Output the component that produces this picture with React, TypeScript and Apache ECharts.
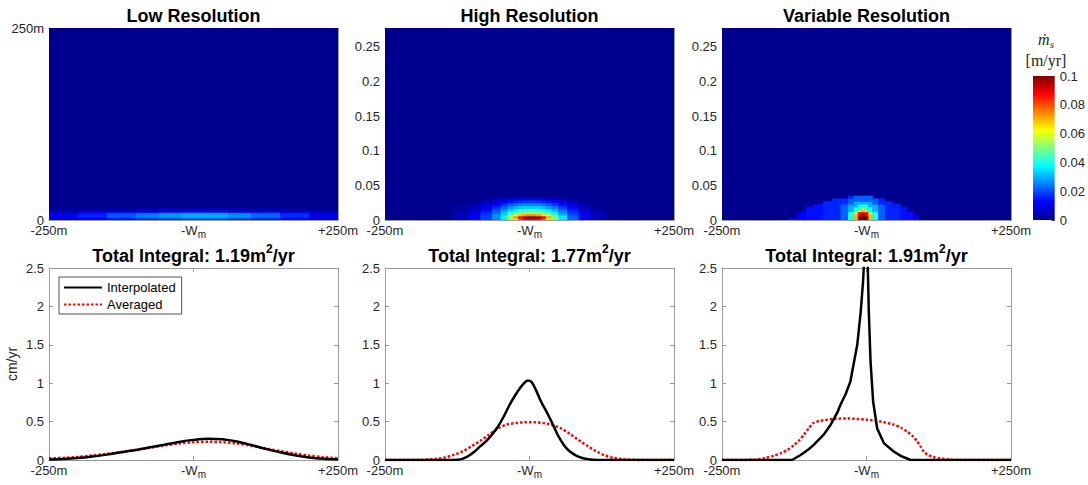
import React, { useEffect, useRef } from 'react';
import * as echarts from 'echarts';

// ---------- labels ----------
const panelTitles = ['Low Resolution', 'High Resolution', 'Variable Resolution'];
const integralValues = ['1.19', '1.77', '1.91'];
const xTickValues = [-250, 0, 250];
const xTickLabels = ['-250m', '-W', '+250m'];
const legendNames = ['Interpolated', 'Averaged'];

// ---------- colour scale (jet) ----------
const JET = ['#00008f', '#0000ff', '#0080ff', '#00ffff', '#80ff80', '#ffff00', '#ff8000', '#ff0000', '#800000'];
const colorMin = 0;
const colorMax = 0.1;
const colorTicks = [0, 0.02, 0.04, 0.06, 0.08, 0.1];

// ---------- top maps ----------
const backgroundValue = 0;
const lowMapYMax = 250;
const fineMapYMax = 0.277;

const lowXEdges = [-250, -200, -150, -100, -60, -20, 20, 60, 100, 150, 200, 250];
const lowYEdges = [0, 2, 4, 7, 10, 12, 15];
const lowValues = [
  [0.007, 0.010, 0.013, 0.015, 0.017, 0.018, 0.018, 0.016, 0.014, 0.010, 0.007],
  [0.009, 0.013, 0.017, 0.020, 0.022, 0.024, 0.024, 0.022, 0.018, 0.014, 0.009],
  [0.011, 0.016, 0.021, 0.025, 0.028, 0.030, 0.030, 0.027, 0.023, 0.017, 0.011],
  [0.010, 0.015, 0.020, 0.024, 0.027, 0.028, 0.028, 0.026, 0.022, 0.016, 0.010],
  [0.005, 0.008, 0.010, 0.012, 0.014, 0.015, 0.015, 0.013, 0.011, 0.008, 0.005],
  [0.002, 0.003, 0.004, 0.005, 0.006, 0.006, 0.006, 0.005, 0.004, 0.003, 0.002],
];

const highXEdges = [-130, -105, -85, -65, -50, -38, -28, -20, -12, -4, 4, 12, 20, 28, 38, 50, 65, 85, 105, 130];
const highYEdges = [0, 0.003, 0.006, 0.009, 0.013, 0.017, 0.021, 0.025, 0.029, 0.033];
const highValues = [
  [0.006, 0.012, 0.018, 0.025, 0.035, 0.05, 0.065, 0.08, 0.088, 0.09, 0.09, 0.088, 0.08, 0.065, 0.05, 0.035, 0.022, 0.012, 0.006],
  [0.006, 0.012, 0.019, 0.027, 0.038, 0.055, 0.075, 0.09, 0.098, 0.1, 0.1, 0.098, 0.09, 0.072, 0.052, 0.036, 0.022, 0.012, 0.006],
  [0.005, 0.011, 0.018, 0.026, 0.035, 0.048, 0.06, 0.068, 0.072, 0.074, 0.074, 0.072, 0.066, 0.056, 0.044, 0.032, 0.02, 0.011, 0.005],
  [0.004, 0.009, 0.016, 0.023, 0.031, 0.039, 0.045, 0.05, 0.052, 0.053, 0.053, 0.052, 0.049, 0.043, 0.036, 0.027, 0.018, 0.009, 0.004],
  [0.003, 0.007, 0.013, 0.02, 0.027, 0.033, 0.037, 0.04, 0.041, 0.042, 0.042, 0.041, 0.039, 0.035, 0.03, 0.023, 0.015, 0.007, 0.003],
  [0.002, 0.005, 0.01, 0.016, 0.022, 0.027, 0.03, 0.032, 0.033, 0.033, 0.033, 0.033, 0.031, 0.028, 0.024, 0.018, 0.011, 0.005, 0.002],
  [0.001, 0.003, 0.007, 0.012, 0.017, 0.021, 0.023, 0.025, 0.026, 0.026, 0.026, 0.025, 0.024, 0.021, 0.018, 0.013, 0.008, 0.003, 0.001],
  [0, 0.001, 0.004, 0.008, 0.011, 0.014, 0.016, 0.017, 0.017, 0.018, 0.018, 0.017, 0.016, 0.014, 0.012, 0.008, 0.005, 0.001, 0],
  [0, 0, 0.001, 0.003, 0.005, 0.006, 0.007, 0.008, 0.008, 0.008, 0.008, 0.008, 0.007, 0.006, 0.005, 0.003, 0.001, 0, 0],
];

const varXEdges = [-135, -120, -105, -90, -75, -60, -45, -32, -22, -15, -9, -3, 3, 10, 20, 32, 45, 58, 70, 80, 90];
const varYEdges = [0, 0.003, 0.006, 0.009, 0.012, 0.015, 0.019, 0.023, 0.027, 0.031, 0.035];
const varValues = [
  [0.012, 0.012, 0.014, 0.014, 0.016, 0.016, 0.022, 0.04, 0.07, 0.1, 0.1, 0.1, 0.07, 0.04, 0.022, 0.016, 0.016, 0.014, 0.014, 0.012],
  [0, 0.012, 0.014, 0.014, 0.016, 0.016, 0.022, 0.04, 0.07, 0.1, 0.1, 0.1, 0.07, 0.04, 0.022, 0.016, 0.016, 0.014, 0.014, 0.012],
  [0, 0.012, 0.014, 0.014, 0.016, 0.016, 0.022, 0.04, 0.07, 0.088, 0.1, 0.088, 0.07, 0.04, 0.022, 0.016, 0.016, 0.014, 0.014, 0],
  [0, 0.012, 0.014, 0.014, 0.016, 0.016, 0.022, 0.04, 0.055, 0.088, 0.088, 0.088, 0.055, 0.04, 0.022, 0.016, 0.016, 0.014, 0.014, 0],
  [0, 0, 0.014, 0.014, 0.016, 0.016, 0.022, 0.03, 0.04, 0.055, 0.07, 0.055, 0.04, 0.03, 0.022, 0.016, 0.016, 0.014, 0, 0],
  [0, 0, 0.014, 0.014, 0.016, 0.016, 0.022, 0.03, 0.04, 0.04, 0.055, 0.04, 0.04, 0.03, 0.022, 0.016, 0.016, 0.014, 0, 0],
  [0, 0, 0, 0.014, 0.016, 0.016, 0.022, 0.03, 0.03, 0.04, 0.04, 0.04, 0.03, 0.03, 0.022, 0.016, 0.016, 0, 0, 0],
  [0, 0, 0, 0, 0.016, 0.016, 0.016, 0.022, 0.03, 0.03, 0.03, 0.03, 0.03, 0.022, 0.016, 0.016, 0, 0, 0, 0],
  [0, 0, 0, 0, 0, 0.016, 0.016, 0.022, 0.022, 0.022, 0.022, 0.022, 0.022, 0.022, 0.016, 0, 0, 0, 0, 0],
  [0, 0, 0, 0, 0, 0, 0, 0.016, 0.022, 0.022, 0.022, 0.022, 0.022, 0, 0, 0, 0, 0, 0, 0],
];

// ---------- bottom profiles (cm/yr) ----------
const lowX = [-250, -225, -200, -175, -150, -125, -100, -75, -50, -25, 0, 25, 50, 75, 100, 125, 150, 175, 200, 225, 250];
const lowInterp = [0.005, 0.012, 0.025, 0.045, 0.07, 0.10, 0.13, 0.165, 0.20, 0.235, 0.262, 0.278, 0.27, 0.24, 0.195, 0.145, 0.10, 0.062, 0.033, 0.015, 0.005];
const lowAvg = [0.02, 0.028, 0.04, 0.058, 0.08, 0.105, 0.13, 0.16, 0.19, 0.215, 0.232, 0.237, 0.232, 0.215, 0.185, 0.15, 0.115, 0.085, 0.058, 0.037, 0.022];

const highInterpX = [-250, -140, -125, -115, -105, -95, -85, -75, -65, -55, -45, -35, -25, -15, -8, -3, 3, 10, 20, 30, 40, 50, 60, 70, 80, 90, 100, 110, 125, 250];
const highInterpY = [0, 0, 0.003, 0.018, 0.055, 0.11, 0.18, 0.245, 0.33, 0.43, 0.56, 0.71, 0.84, 0.95, 1.01, 1.035, 1.02, 0.93, 0.76, 0.62, 0.47, 0.31, 0.19, 0.11, 0.06, 0.03, 0.013, 0.004, 0, 0];
const highAvgX = [-250, -190, -175, -160, -145, -130, -115, -100, -85, -70, -55, -40, -25, -10, 0, 10, 25, 40, 55, 70, 85, 100, 115, 130, 145, 160, 175, 190, 250];
const highAvgY = [0, 0.001, 0.006, 0.016, 0.035, 0.07, 0.115, 0.18, 0.25, 0.33, 0.41, 0.46, 0.48, 0.49, 0.49, 0.49, 0.48, 0.455, 0.41, 0.34, 0.26, 0.185, 0.115, 0.06, 0.028, 0.012, 0.004, 0.001, 0];

const varInterpX = [-250, -129, -114, -100, -91, -74, -62, -51, -45, -36, -28, -16, -10, -6, -3, -1, 1, 2.3, 4, 7, 11.5, 18.5, 30, 47, 60, 70, 76, 250];
const varInterpY = [0, 0, 0.065, 0.14, 0.2, 0.33, 0.46, 0.61, 0.72, 0.86, 1.02, 1.5, 1.93, 2.32, 2.75, 3.2, 3.0, 2.5, 1.93, 1.28, 0.76, 0.41, 0.22, 0.11, 0.05, 0.02, 0, 0];
const varAvgX = [-250, -195, -175, -160, -148, -137, -126, -116, -108, -100, -92, -80, -56, -33, 0, 25, 47, 60, 70, 80, 88, 94, 99, 105, 115, 128, 145, 160, 250];
const varAvgY = [0, 0.003, 0.025, 0.055, 0.09, 0.13, 0.19, 0.26, 0.33, 0.41, 0.48, 0.51, 0.535, 0.54, 0.525, 0.5, 0.46, 0.42, 0.37, 0.31, 0.24, 0.17, 0.11, 0.07, 0.04, 0.02, 0.005, 0, 0];

// ---------- layout ----------
const FONT = "'Liberation Sans', Arial, Helvetica, sans-serif";
const SERIF = "'Liberation Serif', 'DejaVu Serif', serif";
const TEXT = '#262626';
const BOX = '#9a9a9a';
const COL_LEFT = [49, 385, 722];
const COL_WIDTH = 289;
const TOP_Y = 28;
const BOTTOM_Y = 268;
const PLOT_H = 192;
const CB_AXIS = 12;

function zip(xs: number[], ys: number[]) {
  return xs.map((x, i) => [x, ys[i]]);
}

function cells(xEdges: number[], yEdges: number[], values: number[][], yMax: number) {
  const out: number[][] = [[-250, 250, 0, yMax, backgroundValue]];
  values.forEach((row, i) =>
    row.forEach((v, j) => {
      if (v > 0) out.push([xEdges[j], xEdges[j + 1], yEdges[i], yEdges[i + 1], v]);
    })
  );
  return out;
}

const renderCell = (params: any, api: any) => {
  const a = api.coord([api.value(0), api.value(3)]);
  const b = api.coord([api.value(1), api.value(2)]);
  return {
    type: 'rect',
    shape: { x: a[0], y: a[1], width: b[0] - a[0] + 0.5, height: b[1] - a[1] + 0.5 },
    style: { fill: api.visual('color') },
  };
};

const trim = (v: number) => String(+v.toFixed(3));

function xLabel(v: number) {
  const i = xTickValues.indexOf(v);
  if (i < 0) return '';
  if (v === 0) return '{a|' + xTickLabels[i] + '}{s|m}';
  return xTickLabels[i];
}

function buildOption() {
  const grids: any[] = [];
  const xAxes: any[] = [];
  const yAxes: any[] = [];
  for (let g = 0; g < 6; g++) {
    const top = g < 3 ? TOP_Y : BOTTOM_Y;
    grids.push({ left: COL_LEFT[g % 3], top, width: COL_WIDTH, height: PLOT_H, containLabel: false });
    const line = { show: true, onZero: false, lineStyle: { color: BOX, width: 1 } };
    const tick = { show: g >= 3, inside: true, length: 4, lineStyle: { color: BOX } };
    xAxes.push({
      type: 'value', gridIndex: g, position: 'bottom', min: -250, max: 250, interval: 250,
      axisLine: line, axisTick: tick, splitLine: { show: false },
      axisLabel: {
        fontSize: 13, color: TEXT, fontFamily: FONT, margin: 4, formatter: xLabel,
        rich: {
          a: { fontSize: 13, color: TEXT, fontFamily: FONT, lineHeight: 15, verticalAlign: 'top' },
          s: { fontSize: 10, color: TEXT, fontFamily: FONT, lineHeight: 10, verticalAlign: 'bottom' },
        },
      },
    });
    xAxes.push({
      type: 'value', gridIndex: g, position: 'top', min: -250, max: 250, interval: 250,
      axisLine: line, axisTick: tick, splitLine: { show: false }, axisLabel: { show: false },
    });
    let yMin = 0, yMax = 2.5, yInt = 0.5;
    let fmt: any = (v: number) => trim(v);
    if (g === 0) { yMax = lowMapYMax; yInt = lowMapYMax; fmt = (v: number) => (v === lowMapYMax ? '250m' : '0'); }
    else if (g < 3) { yMax = fineMapYMax; yInt = 0.05; fmt = (v: number) => (Math.abs(v - fineMapYMax) < 1e-9 ? '' : trim(v)); }
    yAxes.push({
      type: 'value', gridIndex: g, position: 'left', min: yMin, max: yMax, interval: yInt,
      axisLine: line, axisTick: tick, splitLine: { show: false },
      axisLabel: { fontSize: 13, color: TEXT, fontFamily: FONT, margin: 5, formatter: fmt, showMaxLabel: g !== 1 && g !== 2 },
      ...(g === 3
        ? { name: 'cm/yr', nameLocation: 'middle', nameGap: 30, nameRotate: 90, nameTextStyle: { fontSize: 14, color: TEXT, fontFamily: FONT } }
        : {}),
    });
    yAxes.push({
      type: 'value', gridIndex: g, position: 'right', min: yMin, max: yMax, interval: yInt,
      axisLine: line, axisTick: tick, splitLine: { show: false }, axisLabel: { show: false },
    });
  }
  // colour bar
  grids.push({ left: 1033, top: 76, width: 25, height: 144 });
  xAxes.push({ type: 'category', gridIndex: 6, data: [''], show: false });
  yAxes.push({
    type: 'value', gridIndex: 6, position: 'right', min: colorMin, max: colorMax, interval: 0.02,
    axisLine: { show: false },
    axisTick: { show: true, inside: true, length: 3, lineStyle: { color: TEXT } },
    splitLine: { show: false },
    axisLabel: { fontSize: 13, color: TEXT, fontFamily: FONT, margin: 5, formatter: (v: number) => (colorTicks.some((t) => Math.abs(t - v) < 1e-9) ? trim(v) : '') },
  });

  const mapData = [
    cells(lowXEdges, lowYEdges, lowValues, lowMapYMax),
    cells(highXEdges, highYEdges, highValues, fineMapYMax),
    cells(varXEdges, varYEdges, varValues, fineMapYMax),
  ];
  const series: any[] = mapData.map((d, g) => ({
    type: 'custom', xAxisIndex: 2 * g, yAxisIndex: 2 * g, data: d, renderItem: renderCell,
    encode: { x: [0, 1], y: [2, 3] }, clip: true, silent: true,
  }));

  const profiles = [
    [zip(lowX, lowInterp), zip(lowX, lowAvg), 0.3, 0.3],
    [zip(highInterpX, highInterpY), zip(highAvgX, highAvgY), 0.3, 0.3],
    [zip(varInterpX, varInterpY), zip(varAvgX, varAvgY), 0, 0.25],
  ];
  profiles.forEach((p: any, k) => {
    const g = k + 3;
    series.push({
      type: 'line', name: legendNames[1], xAxisIndex: 2 * g, yAxisIndex: 2 * g, data: p[1],
      symbol: 'none', smooth: p[3], clip: true, z: 3,
      lineStyle: { color: '#ff0000', width: 2.5, type: [2.5, 2] },
      itemStyle: { color: '#ff0000' },
    });
    series.push({
      type: 'line', name: legendNames[0], xAxisIndex: 2 * g, yAxisIndex: 2 * g, data: p[0],
      symbol: 'none', smooth: p[2], clip: true, z: 4,
      lineStyle: { color: '#000000', width: 2.5 },
      itemStyle: { color: '#000000' },
    });
  });

  series.push({
    type: 'bar', xAxisIndex: CB_AXIS, yAxisIndex: CB_AXIS, data: [colorMax], barWidth: '100%', silent: true,
    itemStyle: {
      color: new echarts.graphic.LinearGradient(0, 1, 0, 0, JET.map((c, i) => ({ offset: i / (JET.length - 1), color: c }))),
    },
  });

  const titleFont = 'bold 18px ' + FONT;
  const graphic: any[] = [];
  panelTitles.forEach((t, i) => {
    graphic.push({
      type: 'text', x: COL_LEFT[i] + COL_WIDTH / 2, y: 16,
      style: { text: t, font: titleFont, fill: '#000', align: 'center', verticalAlign: 'middle' },
    });
    graphic.push({
      type: 'text', x: COL_LEFT[i] + COL_WIDTH / 2, y: 254,
      style: {
        text: '{t|Total Integral: ' + integralValues[i] + 'm}{s|2}{t|/yr}',
        align: 'center', verticalAlign: 'middle',
        rich: {
          t: { fontSize: 18, fontWeight: 'bold', fontFamily: FONT, fill: '#000', lineHeight: 22, verticalAlign: 'bottom' },
          s: { fontSize: 12, fontWeight: 'bold', fontFamily: FONT, fill: '#000', lineHeight: 12, verticalAlign: 'top' },
        },
      },
    });
  });
  graphic.push({
    type: 'text', x: 1046, y: 40,
    style: {
      text: '{m|ṁ}{s|s}', align: 'center', verticalAlign: 'middle',
      rich: {
        m: { fontSize: 16, fontStyle: 'italic', fontFamily: SERIF, fill: TEXT, lineHeight: 18, verticalAlign: 'top' },
        s: { fontSize: 11, fontStyle: 'italic', fontFamily: SERIF, fill: TEXT, lineHeight: 10, verticalAlign: 'bottom' },
      },
    },
  });
  graphic.push({
    type: 'text', x: 1046, y: 60,
    style: { text: '[m/yr]', font: '16px ' + SERIF, fill: TEXT, align: 'center', verticalAlign: 'middle' },
  });

  return {
    animation: false,
    backgroundColor: '#ffffff',
    grid: grids,
    xAxis: xAxes,
    yAxis: yAxes,
    visualMap: {
      type: 'continuous', show: false, min: colorMin, max: colorMax, dimension: 4,
      seriesIndex: [0, 1, 2], inRange: { color: JET },
    },
    legend: {
      data: legendNames, orient: 'vertical', left: 59, top: 277,
      backgroundColor: '#fff', borderColor: TEXT, borderWidth: 0.8,
      padding: [4, 6, 3, 4], itemWidth: 38, itemHeight: 12, itemGap: 4,
      itemStyle: { opacity: 0 },
      textStyle: { fontSize: 13, color: '#000', fontFamily: FONT },
      selectedMode: false,
    },
    series,
    graphic,
  };
}

export default function App() {
  const ref = useRef<HTMLDivElement>(null);
  useEffect(() => {
    document.body.style.margin = '0';
    const chart = echarts.init(ref.current as HTMLDivElement, null, { renderer: 'svg' });
    chart.setOption(buildOption() as any);
    return () => chart.dispose();
  }, []);
  return <div ref={ref} style={{ width: 1088, height: 485 }} />;
}
